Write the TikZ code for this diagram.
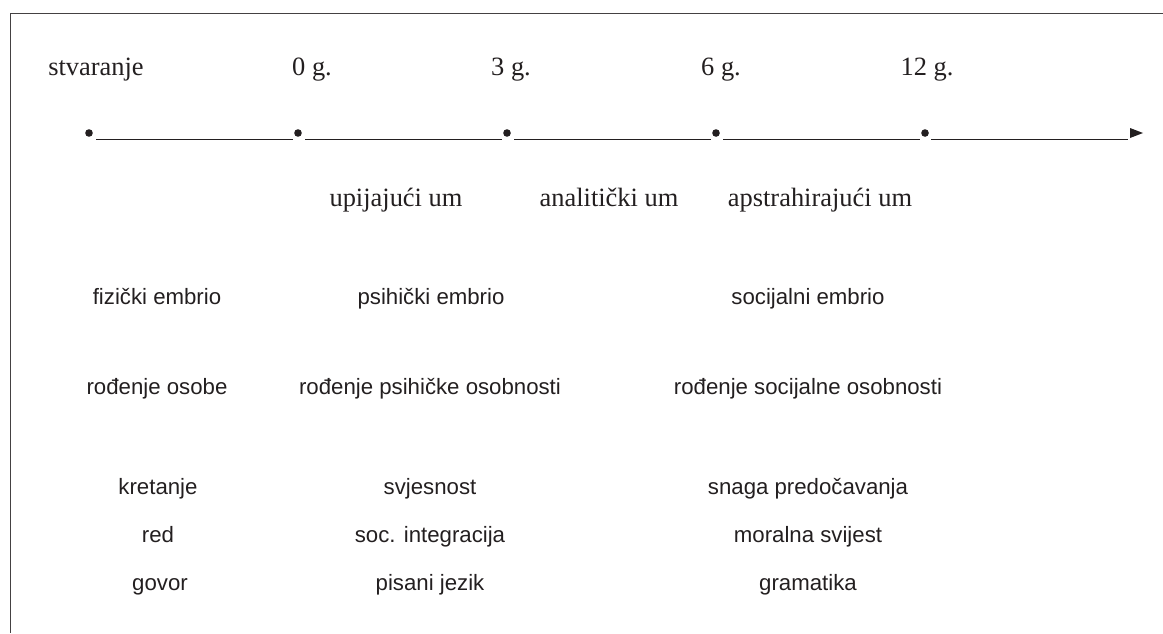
\documentclass[tikz,border=0pt]{standalone}
\usepackage{fontspec}
\setmainfont{Liberation Serif}
\setsansfont{Liberation Sans}
\definecolor{ink}{HTML}{231F20}

\begin{document}
\begin{tikzpicture}[x=0.025cm,y=-0.025cm,
    year/.style={font=\fontsize{18.8}{21}\selectfont, text=ink, anchor=base, inner sep=0pt},
    info/.style={font=\sffamily\fontsize{15.8}{18}\selectfont, text=ink, anchor=base, inner sep=0pt},
    dot/.style={circle, fill=ink, inner sep=0pt, minimum size=0.19cm},
    seg/.style={draw=ink, line width=0.7pt}]
    \useasboundingbox (0,0) rectangle (1163,633);
    % frame
    \draw[ink!85, line width=0.7pt] (1163,13) -- (10,13) -- (10,633);
    % time line
    \foreach \x/\n in {89/d0, 298/d1, 507/d2, 716/d3, 925/d4}
        \node[dot] (\n) at (\x,133) {};
    \coordinate (end) at (1137,133);
    \foreach \a/\b in {d0/d1, d1/d2, d2/d3, d3/d4}
        \draw[seg] ([shift={(7,6)}]\a.center) -- ([shift={(-5,6)}]\b.center);
    \draw[seg] ([shift={(6,6)}]d4.center) -- ([shift={(-9,6)}]end);
    \fill[ink] (end) ++(-7,-5) -- ++(13,5) -- ++(-13,5) -- cycle;
    % years
    \node[year] (y0) at (96,75) {stvaranje};
    \node[year] (y1) at (312,75) {0 g.};
    \node[year] (y2) at (511,75) {3 g.};
    \node[year] (y3) at (721,75) {6 g.};
    \node[year] (y4) at (927,75) {12 g.};
    % minds
    \node[year] (m1) at (396,206) {upijajući um};
    \node[year] (m2) at (609,206) {analitički um};
    \node[year] (m3) at (820,206) {apstrahirajući um};
    % embrio
    \node[info] (e1) at (157,304) {fizički embrio};
    \node[info] (e2) at (431,304) {psihički embrio};
    \node[info] (e3) at (808,304) {socijalni embrio};
    % rodjenje
    \node[info] (r1) at (157,394) {rođenje osobe};
    \node[info] (r2) at (430,394) {rođenje psihičke osobnosti};
    \node[info] (r3) at (808,394) {rođenje socijalne osobnosti};
    % abilities
    \node[info] (a1) at (158,494) {kretanje};
    \node[info] (a2) at (430,494) {svjesnost};
    \node[info] (a3) at (808,494) {snaga predočavanja};
    \node[info] (b1) at (158,542) {red};
    \node[info] (b2) at (430,542) {soc. integracija};
    \node[info] (b3) at (808,542) {moralna svijest};
    \node[info] (c1) at (160,590) {govor};
    \node[info] (c2) at (430,590) {pisani jezik};
    \node[info] (c3) at (808,590) {gramatika};
\end{tikzpicture}
\end{document}
